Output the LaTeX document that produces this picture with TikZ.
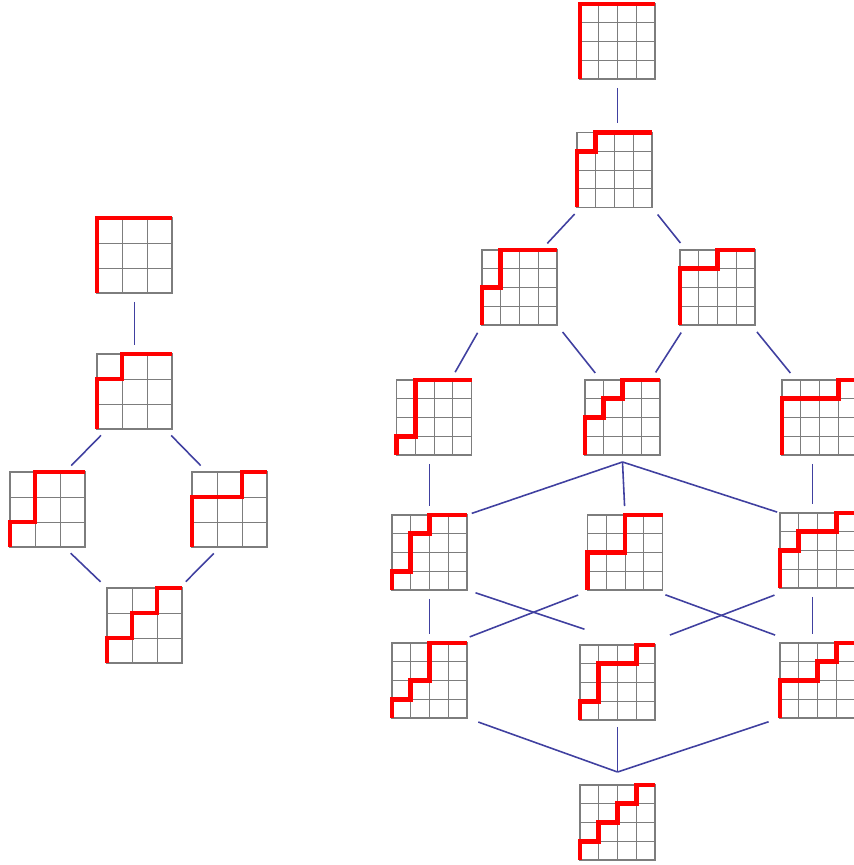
\documentclass[tikz,border=0pt]{standalone}
\usepackage{tikz}
\usetikzlibrary{
  arrows.meta,  % 箭头样式
  calc          % 坐标计算
}

\definecolor{linkblue}{RGB}{64,64,160}
\definecolor{gridgray}{RGB}{125,125,125}

% 一个带 Dyck 路径的方格：#1 名称，#2 #3 中心，#4 格数，#5 路径分段 (dx/dy)
\newcommand{\dyckbox}[5]{%
  \node[gridbox] (#1) at (#2,#3) {};
  \pgfmathsetmacro{\cellw}{75/#4}
  \pgfmathtruncatemacro{\nm}{#4-1}
  \foreach \i in {1,...,\nm} {
    \draw[gridline] ({#2-37.5+\i*\cellw},{#3-37.5}) -- ++(0,75);
    \draw[gridline] ({#2-37.5},{#3-37.5+\i*\cellw}) -- ++(75,0);
  }
  \draw[dyck] ({#2-37.5},{#3-37.5})
    \foreach \dx/\dy in {#5} { -- ++({\dx*\cellw},{\dy*\cellw}) };
}

\begin{document}
\begin{tikzpicture}[x=0.02cm, y=0.02cm, >=Stealth,
    gridbox/.style={draw=gridgray, line width=0.6pt, minimum size=1.5cm,
      inner sep=0pt, outer sep=0pt},
    gridline/.style={gridgray, line width=0.5pt},
    dyck/.style={red, line width=2.6pt, line join=miter},
    link/.style={draw=linkblue, line width=0.9pt,
      shorten >=0.18cm, shorten <=0.18cm}]
  \useasboundingbox (0,0) rectangle (854,865);

  % 左图：n = 3
  \dyckbox{L1}{134.5}{609.5}{3}{0/3,3/0}
  \dyckbox{L2}{134.5}{473.5}{3}{0/2,1/0,0/1,2/0}
  \dyckbox{L3}{47.5}{355.5}{3}{0/1,1/0,0/2,2/0}
  \dyckbox{L4}{229.5}{355.5}{3}{0/2,2/0,0/1,1/0}
  \dyckbox{L5}{144.5}{239.5}{3}{0/1,1/0,0/1,1/0,0/1,1/0}

  \draw[link] (L1.south) -- (L2.north);
  \draw[link] (L2.234) -- (L3.65);
  \draw[link] (L2.309) -- (L4.121);
  \draw[link] (L3.294) -- (L5.north west);
  \draw[link] (L4.256) -- (L5.47);

  % 右图：n = 4
  \dyckbox{R1}{617.5}{823.5}{4}{0/4,4/0}
  \dyckbox{R2}{614.5}{695}{4}{0/3,1/0,0/1,3/0}
  \dyckbox{R3}{519.5}{577.5}{4}{0/2,1/0,0/2,3/0}
  \dyckbox{R4}{717.5}{577.5}{4}{0/3,2/0,0/1,2/0}
  \dyckbox{R5}{434}{447.5}{4}{0/1,1/0,0/3,3/0}
  \dyckbox{R6}{622.5}{447.5}{4}{0/2,1/0,0/1,1/0,0/1,2/0}
  \dyckbox{R7}{819.5}{447.5}{4}{0/3,3/0,0/1,1/0}
  \dyckbox{Q1}{429.5}{312.5}{4}{0/1,1/0,0/2,1/0,0/1,2/0}
  \dyckbox{Q2}{625}{312.5}{4}{0/2,2/0,0/2,2/0}
  \dyckbox{Q3}{817.5}{314.5}{4}{0/2,1/0,0/1,2/0,0/1,1/0}
  \dyckbox{S1}{429.5}{184.5}{4}{0/1,1/0,0/1,1/0,0/2,2/0}
  \dyckbox{S2}{617.5}{182.5}{4}{0/1,1/0,0/2,2/0,0/1,1/0}
  \dyckbox{S3}{817.5}{184.5}{4}{0/2,2/0,0/1,1/0,0/1,1/0}
  \dyckbox{B}{617.5}{42.5}{4}{0/1,1/0,0/1,1/0,0/1,1/0,0/1,1/0}

  \draw[link] (R1.south) -- (R1.south |- R2.north);
  \draw[link] (R2.228) -- (R3.60);
  \draw[link] (R2.315) -- (R4.130);
  \draw[link] (R3.south west) -- (R5.66);
  \draw[link] (R3.south east) -- (R6.120);
  \draw[link] (R4.230) -- (R6.53);
  \draw[link] (R4.312) -- (R7.122);

  \draw[link] (Q1.north |- R5.south) -- (Q1.north);
  \draw[link, shorten <=0pt, shorten >=0.1cm] ([yshift=-0.14cm]R6.south) -- (Q1.north east);
  \draw[link, shorten <=0pt] ([yshift=-0.14cm]R6.south) -- (Q2.north);
  \draw[link, shorten <=0pt, shorten >=0.06cm] ([yshift=-0.14cm]R6.south) -- (Q3.north west);
  \draw[link] ([xshift=-0.1cm]Q3.north |- R7.south) -- ([xshift=-0.1cm]Q3.north);

  \draw[link] (Q1.south) -- (S1.north);
  \draw[link, shorten >=1cm] (Q1.south east) -- (S2.69);
  \draw[link, shorten <=0.28cm, shorten >=0.34cm] (Q2.228) -- (S1.57);
  \draw[link, shorten <=0.28cm, shorten >=0.46cm] (Q2.306) -- (S3.119);
  \draw[link, shorten <=0.4cm, shorten >=0.56cm] (Q3.237) -- (S2.55);
  \draw[link] ([xshift=-0.1cm]Q3.south) -- ([xshift=-0.1cm]S3.north);

  \draw[link, shorten <=0.24cm, shorten >=0pt] (S1.south east) -- ([yshift=0.26cm]B.north);
  \draw[link, shorten <=0.14cm, shorten >=0pt] (S2.south) -- ([yshift=0.26cm]B.north);
  \draw[link, shorten <=0.24cm, shorten >=0pt] (S3.south west) -- ([yshift=0.26cm]B.north);
\end{tikzpicture}
\end{document}
